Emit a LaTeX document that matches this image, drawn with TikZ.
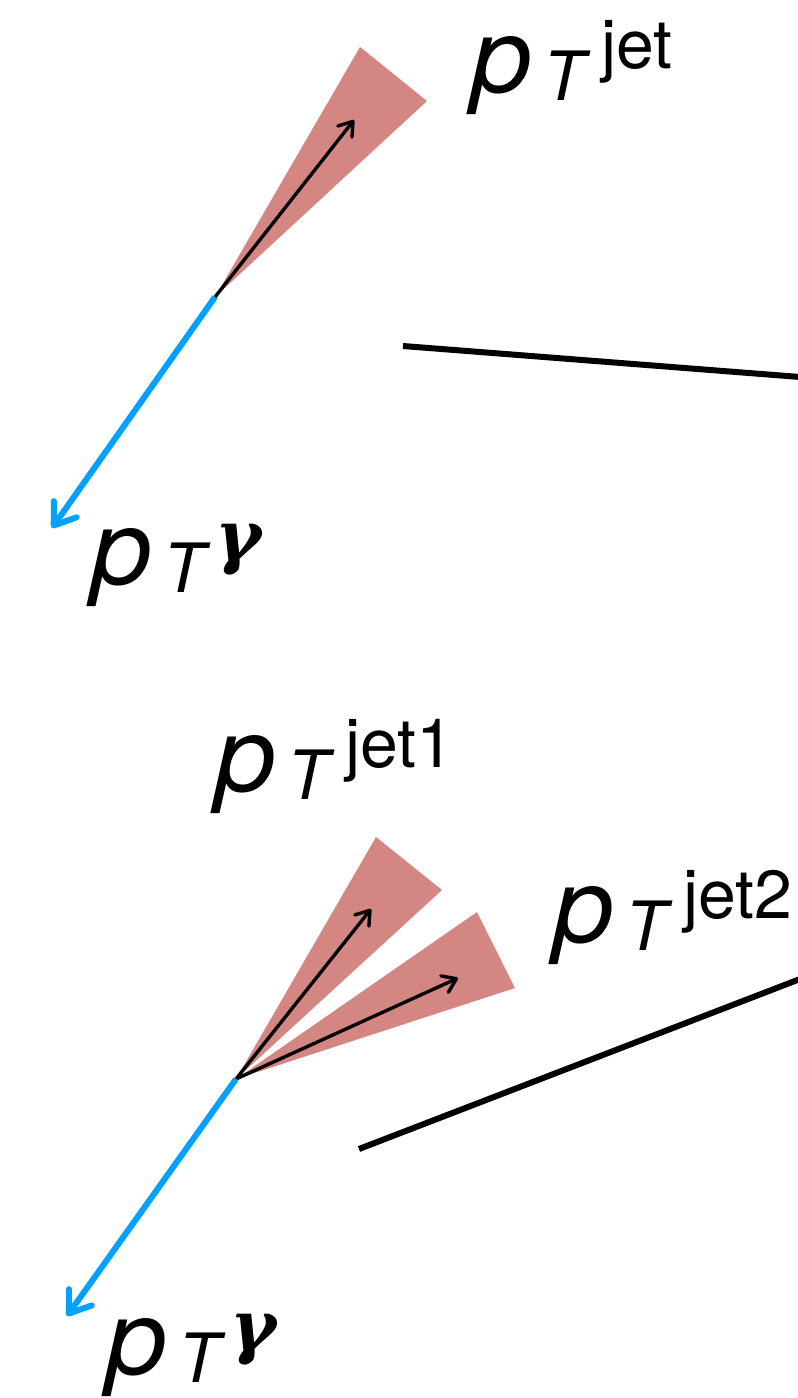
\documentclass[tikz,border=0pt]{standalone}
\usepackage{fontspec}
\setmainfont{TeX Gyre Heros}
\newfontfamily\gfont{DejaVu Serif}
\usetikzlibrary{arrows.meta}
\definecolor{conecol}{RGB}{212,134,131}
\definecolor{photoncol}{RGB}{0,161,255}
% #1 = kern before superscript, #2 = superscript
\newcommand{\ptlab}[2]{\hbox{\scalebox{1.05}[1]{\fontsize{104}{104}\selectfont\itshape p}\kern12pt\raisebox{-8pt}{\fontsize{68}{68}\selectfont\itshape T}\kern#1\raisebox{24pt}{#2}}}
\newcommand{\supjet}[1]{\fontsize{68}{68}\selectfont\upshape #1}
\newcommand{\supgam}{\fontsize{70}{70}\selectfont\gfont\bfseries\itshape γ}
\begin{document}
\begin{tikzpicture}[x=1pt,y=-1pt,
  cone/.style={fill=conecol},
  jetarrow/.style={line width=3.4pt,-{Straight Barb[length=13pt,width=18pt,round]}},
  photonarrow/.style={photoncol,line width=6pt,-{Straight Barb[length=20pt,width=28pt,round]}},
  axisline/.style={line width=6pt},
  lab/.style={anchor=base west,inner sep=0pt}]
\useasboundingbox (0,0) rectangle (798,1398);
% panel 1
\coordinate (o1) at (215,297);
\coordinate (c1a) at (360,47);
\coordinate (c1b) at (427,101);
\coordinate (j1) at (354,120);
\coordinate (g1) at (52,528);
\coordinate (l1a) at (403,346);
\coordinate (l1b) at (800,377);
\fill[cone] (o1) -- (c1a) -- (c1b) -- cycle;
\draw[jetarrow] (o1) -- (j1);
\draw[photonarrow] (o1) -- (g1);
\draw[axisline] (l1a) -- (l1b);
\node[lab] (ljet) at (471,92) {\ptlab{16pt}{\supjet{jet}}};
\node[lab] (lgam1) at (91,584) {\ptlab{10pt}{\supgam}};
% panel 2
\coordinate (o2) at (236,1079);
\coordinate (c2a) at (376,837);
\coordinate (c2b) at (442,890);
\coordinate (c3a) at (477,912);
\coordinate (c3b) at (515,988);
\coordinate (j2) at (371,909);
\coordinate (j3) at (458,978);
\coordinate (g2) at (67,1316);
\coordinate (l2a) at (359,1149);
\coordinate (l2b) at (800,979);
\fill[cone] (o2) -- (c2a) -- (c2b) -- cycle;
\fill[cone] (o2) -- (c3a) -- (c3b) -- cycle;
\draw[jetarrow] (o2) -- (j2);
\draw[jetarrow] (o2) -- (j3);
\draw[photonarrow] (o2) -- (g2);
\draw[axisline] (l2a) -- (l2b);
\node[lab] (ljet1) at (215,791) {\ptlab{16pt}{\supjet{jet1}}};
\node[lab] (ljet2) at (553,942) {\ptlab{16pt}{\supjet{jet2}}};
\node[lab] (lgam2) at (106,1374) {\ptlab{10pt}{\supgam}};
\end{tikzpicture}
\end{document}
